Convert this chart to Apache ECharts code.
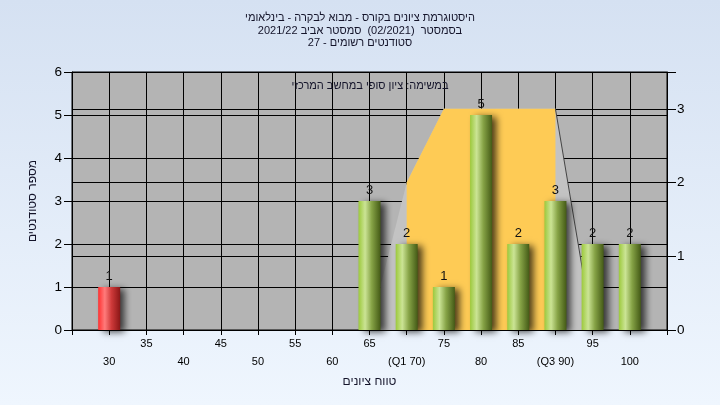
<!DOCTYPE html>
<html>
<head>
<meta charset="utf-8">
<script src="https://cdn.jsdelivr.net/npm/echarts@6/dist/echarts.min.js"></script>
<style>
html,body{margin:0;padding:0;}
#chart{width:720px;height:405px;}
</style>
</head>
<body>
<div id="chart"></div>
<script>
// ---- data ----
const titleLines = [
  'היסטוגרמת ציונים בקורס - מבוא לבקרה - בינלאומי',
  'בסמסטר  (02/2021)  סמסטר אביב 2021/22',
  'סטודנטים רשומים - 27'
];
const noteText = 'במשימה: ציון סופי במחשב המרכזי';
const yAxisTitle = 'מספר סטודנטים';
const xAxisTitle = 'טווח ציונים';
const binValues = [30, 35, 40, 45, 50, 55, 60, 65, 70, 75, 80, 85, 90, 95, 100];
const studentCounts = [1, 0, 0, 0, 0, 0, 0, 3, 2, 1, 5, 2, 3, 2, 2];
const xTickLabels = ['30', '35', '40', '45', '50', '55', '60', '65', '(Q1 70)', '75', '80', '85', '(Q3 90)', '95', '100'];
const failBelow = 55;
// quartile shape (right axis)
const whiskerX = [65, 70, 75, 90, 95];
const whiskerY = [0, 2, 3, 3, 0];
const boxX = [70, 75, 90];
const boxY = [2, 3, 3];
const upperWhiskerX = [90, 95];
const upperWhiskerY = [3, 0];

const rtl = s => '\u202B' + s + '\u202C';
const FONT = '"Liberation Sans", Arial, sans-serif';

const barData = [];
binValues.forEach((v, i) => {
  if (studentCounts[i] > 0) barData.push([v, studentCounts[i]]);
});
const greenGrad = {type: 'linear', x: 0, y: 0, x2: 1, y2: 0, colorStops: [
  {offset: 0, color: '#9cc93c'}, {offset: 0.3, color: '#cbe495'},
  {offset: 0.6, color: '#86a346'}, {offset: 1, color: '#445a16'}]};
const redGrad = {type: 'linear', x: 0, y: 0, x2: 1, y2: 0, colorStops: [
  {offset: 0, color: '#ff3030'}, {offset: 0.3, color: '#ff7b7b'},
  {offset: 0.6, color: '#cf3a3a'}, {offset: 1, color: '#8a1616'}]};

const chart = echarts.init(document.getElementById('chart'), null, {renderer: 'canvas'});
chart.setOption({
  animation: false,
  backgroundColor: {type: 'linear', x: 0, y: 0, x2: 0, y2: 1, colorStops: [
    {offset: 0, color: '#d5e1f2'}, {offset: 1, color: '#eff6fe'}]},
  textStyle: {fontFamily: FONT},
  title: {
    text: titleLines.map(rtl).join('\n'),
    left: 'center', top: 12, padding: 0,
    textStyle: {fontSize: 11, fontWeight: 'normal', color: '#14142a', lineHeight: 12.5, fontFamily: FONT}
  },
  graphic: [{
    type: 'text', x: 370, y: 86, z: 100,
    style: {text: rtl(noteText), fill: '#14142a', font: '11px ' + FONT, textAlign: 'center', textVerticalAlign: 'middle'}
  }],
  grid: {left: 72, right: 53, top: 72, bottom: 75, show: true, backgroundColor: '#b4b4b4', borderColor: '#000', borderWidth: 1},
  xAxis: {
    type: 'value', min: 25, max: 105, interval: 5,
    name: rtl(xAxisTitle), nameLocation: 'middle', nameGap: 44,
    nameTextStyle: {fontSize: 12, color: '#14142a', fontFamily: FONT},
    axisLine: {show: true, lineStyle: {color: '#000', width: 1}},
    axisTick: {show: true, length: 5, lineStyle: {color: '#000'}},
    splitLine: {show: true, lineStyle: {color: '#000', width: 1}},
    axisLabel: {
      margin: 5, fontSize: 11, color: '#000', lineHeight: 18, fontFamily: FONT,
      formatter: v => {
        const i = binValues.indexOf(v);
        if (i < 0) return '';
        return (i % 2 === 0) ? '\n' + xTickLabels[i] : xTickLabels[i];
      }
    }
  },
  yAxis: [{
    type: 'value', min: 0, max: 6, interval: 1, position: 'left',
    name: rtl(yAxisTitle), nameLocation: 'middle', nameGap: 33,
    nameTextStyle: {fontSize: 12, color: '#14142a', fontFamily: FONT},
    axisLine: {show: true, lineStyle: {color: '#000'}},
    axisTick: {show: true, length: 8, lineStyle: {color: '#000'}},
    splitLine: {show: true, lineStyle: {color: '#000', width: 1}},
    axisLabel: {margin: 10, fontSize: 13.5, color: '#000', fontFamily: FONT}
  }, {
    type: 'value', min: 0, max: 3.5, interval: 1, position: 'right',
    axisLine: {show: true, lineStyle: {color: '#000'}},
    axisTick: {show: true, length: 9, lineStyle: {color: '#000'}},
    splitLine: {show: true, lineStyle: {color: '#000', width: 1}},
    axisLabel: {margin: 10, fontSize: 13.5, color: '#000', fontFamily: FONT,
      formatter: v => (Number.isInteger(v) ? String(v) : '')}
  }],
  series: [{
    type: 'line', xAxisIndex: 0, yAxisIndex: 1, z: 1,
    data: whiskerX.map((x, i) => [x, whiskerY[i]]),
    showSymbol: false, lineStyle: {width: 0}, areaStyle: {color: '#c3c3c3', opacity: 1}
  }, {
    type: 'line', xAxisIndex: 0, yAxisIndex: 1, z: 2,
    data: boxX.map((x, i) => [x, boxY[i]]),
    showSymbol: false, lineStyle: {width: 0}, areaStyle: {color: '#fecb55', opacity: 1}
  }, {
    type: 'line', xAxisIndex: 0, yAxisIndex: 1, z: 3,
    data: upperWhiskerX.map((x, i) => [x, upperWhiskerY[i]]),
    showSymbol: false, lineStyle: {width: 1, color: '#444'}
  }, {
    type: 'bar', xAxisIndex: 0, yAxisIndex: 0, z: 5,
    data: barData, barWidth: 22,
    itemStyle: {
      color: p => (p.value[0] < failBelow ? redGrad : greenGrad),
      shadowColor: 'rgba(0,0,0,0.7)', shadowBlur: 7, shadowOffsetX: 5, shadowOffsetY: 2
    },
    label: {show: true, position: 'top', distance: 4, fontSize: 13, color: '#111', fontFamily: FONT,
      formatter: p => String(p.value[1])}
  }]
});
</script>
</body>
</html>
